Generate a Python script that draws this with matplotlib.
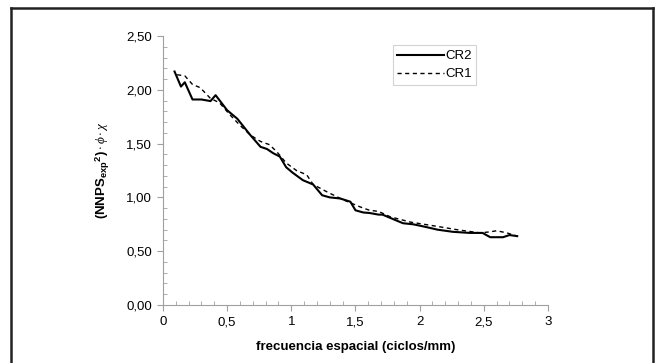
import matplotlib.pyplot as plt
from matplotlib.lines import Line2D
from matplotlib.ticker import MultipleLocator, FuncFormatter

plt.rcParams['font.family'] = ['Liberation Sans', 'DejaVu Sans']
plt.rcParams['mathtext.fontset'] = 'custom'
plt.rcParams['mathtext.rm'] = 'Liberation Sans'
plt.rcParams['mathtext.bf'] = 'Liberation Sans:bold'
plt.rcParams['mathtext.it'] = 'Liberation Serif:italic'

# CR2 (solid)
cr2_x = [0.09, 0.14, 0.17, 0.23, 0.30, 0.37, 0.41, 0.50, 0.58, 0.60, 0.68, 0.76,
         0.81, 0.86, 0.91, 0.96, 1.01, 1.09, 1.17, 1.24, 1.30, 1.38, 1.46, 1.50,
         1.56, 1.61, 1.68, 1.71, 1.79, 1.87, 1.95, 2.03, 2.14, 2.26, 2.39, 2.49,
         2.55, 2.65, 2.70, 2.76]
cr2_y = [2.17, 2.03, 2.07, 1.91, 1.91, 1.895, 1.95, 1.81, 1.73, 1.70, 1.58, 1.47,
         1.45, 1.41, 1.38, 1.28, 1.23, 1.16, 1.12, 1.02, 1.00, 0.99, 0.96, 0.88,
         0.86, 0.855, 0.84, 0.84, 0.80, 0.76, 0.75, 0.73, 0.70, 0.68, 0.67, 0.67,
         0.63, 0.63, 0.65, 0.64]

# CR1 (dashed)
cr1_x = [0.11, 0.17, 0.23, 0.29, 0.37, 0.44, 0.52, 0.60, 0.68, 0.76, 0.83, 0.89,
         0.96, 1.04, 1.12, 1.17, 1.28, 1.40, 1.54, 1.61, 1.68, 1.77, 1.93, 2.14,
         2.29, 2.47, 2.55, 2.60, 2.68, 2.76]
cr1_y = [2.14, 2.13, 2.05, 2.02, 1.92, 1.88, 1.77, 1.67, 1.58, 1.52, 1.49, 1.42,
         1.32, 1.25, 1.21, 1.12, 1.05, 0.98, 0.91, 0.88, 0.87, 0.82, 0.77, 0.73,
         0.70, 0.67, 0.68, 0.69, 0.67, 0.64]

fig = plt.figure(figsize=(6.58, 3.63), dpi=100)
ax = fig.add_axes([0.2477, 0.1598, 0.5851, 0.7410])

ax.plot(cr2_x, cr2_y, color='black', lw=1.5, label='CR2')
ax.plot(cr1_x, cr1_y, color='black', lw=1.0, ls=(0, (3, 2.5)), label='CR1')

ax.set_xlim(0, 3)
ax.set_ylim(0, 2.5)
ax.xaxis.set_major_locator(MultipleLocator(0.5))
ax.xaxis.set_minor_locator(MultipleLocator(0.1))
ax.yaxis.set_major_locator(MultipleLocator(0.5))
ax.yaxis.set_minor_locator(MultipleLocator(0.1))
ax.xaxis.set_major_formatter(FuncFormatter(lambda v, p: ('%g' % v).replace('.', ',')))
ax.yaxis.set_major_formatter(FuncFormatter(lambda v, p: ('%.2f' % v).replace('.', ',')))

for s in ['top', 'right']:
    ax.spines[s].set_visible(False)
for s in ['left', 'bottom']:
    ax.spines[s].set_color('#a0a0a0')
    ax.spines[s].set_linewidth(0.8)
ax.tick_params(which='major', direction='out', length=4, color='#a0a0a0',
               labelsize=9.5, pad=4)
ax.tick_params(which='minor', direction='in', length=3, color='#a0a0a0')

ax.set_xlabel('frecuencia espacial (ciclos/mm)', fontsize=9.5, fontweight='bold', labelpad=9)
ax.set_ylabel(r'$\mathbf{(NNPS_{exp}}^{\mathbf{2}}\mathbf{)}\cdot\phi\cdot\chi$',
              fontsize=9.5, labelpad=10)

leg = ax.legend(loc='upper left', bbox_to_anchor=(0.597, 0.965), fontsize=9.5,
                frameon=True, fancybox=False, handlelength=3.5, handletextpad=0.1,
                borderpad=0.35, labelspacing=0.45, borderaxespad=0)
leg.get_frame().set_edgecolor('#c8c8c8')
leg.get_frame().set_linewidth(0.8)

# outer frame
W, H = 658, 363
x0, x1, y0 = 11 / W, 653 / W, 1 - 8 / H
for xs, ys in [([x0, x0], [0, y0]), ([x0, x1], [y0, y0]), ([x1, x1], [y0, 0])]:
    fig.add_artist(Line2D(xs, ys, color='#222222', lw=1.8, transform=fig.transFigure))

fig.savefig('out.png', dpi=100)
